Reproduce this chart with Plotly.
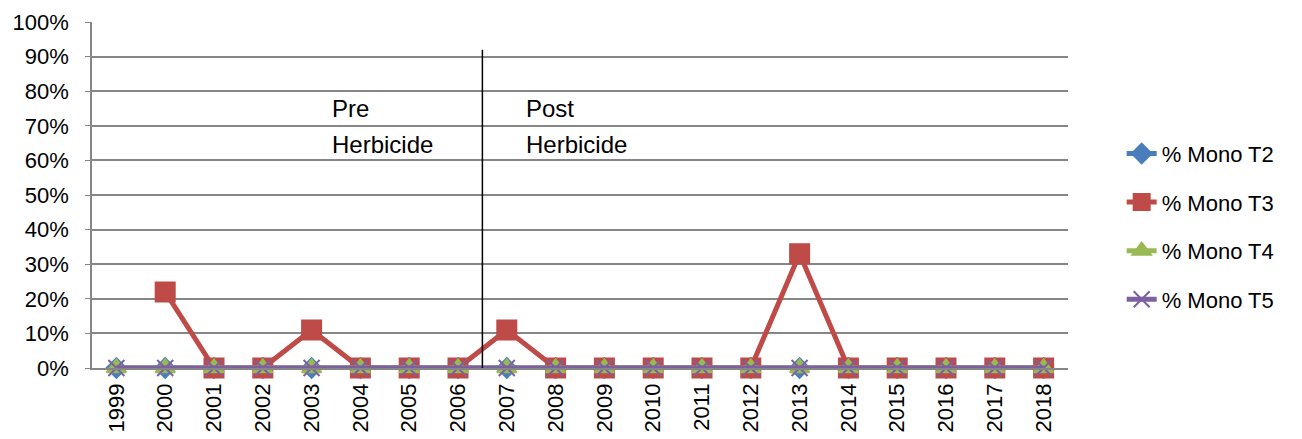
import plotly.graph_objects as go

# -----------------------------
# Dados
# -----------------------------
anos = [str(a) for a in range(1999, 2019)]
mono_t2 = [0] * 20
mono_t3 = [None, 0.22, 0, 0, 0.11, 0, 0, 0, 0.11, 0, 0, 0, 0, 0, 0.33, 0, 0, 0, 0, 0]
mono_t4 = [0] * 20
mono_t5 = [0] * 20

series = [
    ("% Mono T2", mono_t2, "#4A7EBB", "diamond", 15),
    ("% Mono T3", mono_t3, "#BE4B48", "square", 19),
    ("% Mono T4", mono_t4, "#98B954", "triangle-up", 17),
    ("% Mono T5", mono_t5, "#7D60A0", "x-thin", 16),
]

fig = go.Figure()
for i, (nome, valores, cor, simbolo, tam) in enumerate(series):
    fig.add_trace(go.Scatter(
        x=anos, y=valores, name=nome, mode="lines+markers",
        line=dict(color=cor, width=5),
        marker=dict(symbol=simbolo, size=tam, color=cor,
                    line=dict(color=cor, width=2)),
        cliponaxis=False,
        legendgroup=str(i),
    ))

# linha vertical pre/post herbicida
fig.add_shape(type="line", xref="x", yref="y", x0=7.5, x1=7.5, y0=0, y1=0.92,
              line=dict(color="black", width=1.5))

fonte_txt = dict(family="Liberation Sans, Arial", size=24, color="black")
for x, linha1 in [(4.44, "Pre"), (8.41, "Post")]:
    fig.add_annotation(x=x, y=0.75, text=linha1, showarrow=False,
                       xanchor="left", yanchor="middle", font=fonte_txt,
                       xshift=-3)
    fig.add_annotation(x=x, y=0.645, text="Herbicide", showarrow=False,
                       xanchor="left", yanchor="middle", font=fonte_txt,
                       xshift=-3)

# a página tem 8px de margem no body -> compensar nas margens
fig.update_layout(
    width=1302, height=439,
    margin=dict(l=84, r=242, t=14, b=79),
    paper_bgcolor="white", plot_bgcolor="white",
    font=dict(family="Liberation Sans, Arial", size=22, color="black"),
    showlegend=True,
    legend=dict(x=1.055, y=0.68, xanchor="left", yanchor="top",
                tracegroupgap=17, font=dict(size=22)),
)
fig.update_xaxes(
    type="category", range=[-0.5, 19.5], tickangle=-90, automargin=False,
    showgrid=False, showline=True, linecolor="#868686", linewidth=1.5,
    ticks="", tickfont=dict(size=22), ticklabelstandoff=5,
)
fig.update_yaxes(
    range=[0, 1], dtick=0.1, tickformat=".0%", automargin=False,
    showgrid=True, gridcolor="#868686", gridwidth=1.5,
    showline=True, linecolor="#868686", linewidth=1.5,
    ticks="outside", ticklen=5, tickcolor="#868686",
    zeroline=False, tickfont=dict(size=22), ticklabelstandoff=12,
)

fig.write_html("out.html")
